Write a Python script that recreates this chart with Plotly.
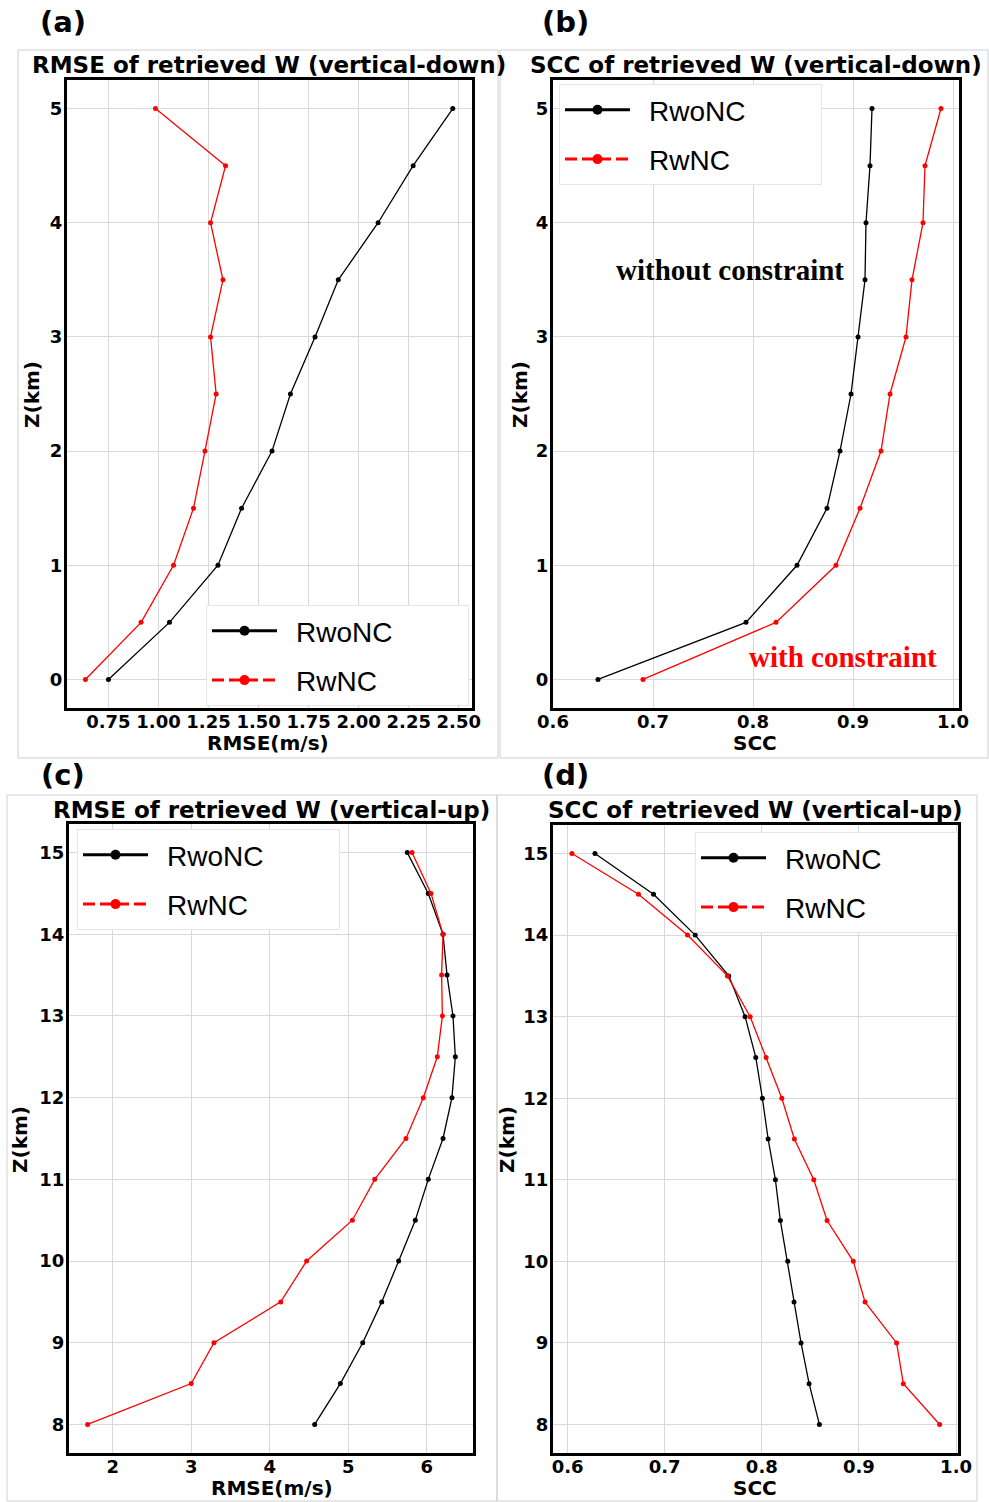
import plotly.graph_objects as go

W, H = 989, 1502

# ---------------- data ----------------
z_down = [0, 0.5, 1, 1.5, 2, 2.5, 3, 3.5, 4, 4.5, 5]
rmse_down_woNC = [0.75, 1.055, 1.297, 1.415, 1.567, 1.659, 1.782, 1.898, 2.097, 2.272, 2.47]
rmse_down_wNC = [0.635, 0.913, 1.075, 1.175, 1.232, 1.288, 1.26, 1.322, 1.26, 1.335, 0.985]
scc_down_woNC = [0.645, 0.793, 0.844, 0.874, 0.887, 0.898, 0.905, 0.912, 0.913, 0.917, 0.919]
scc_down_wNC = [0.690, 0.823, 0.883, 0.907, 0.928, 0.937, 0.953, 0.959, 0.970, 0.972, 0.988]

z_up = [8, 8.5, 9, 9.5, 10, 10.5, 11, 11.5, 12, 12.5, 13, 13.5, 14, 14.5, 15]
rmse_up_woNC = [4.573, 4.9, 5.185, 5.427, 5.643, 5.855, 6.02, 6.208, 6.322, 6.365, 6.335, 6.259, 6.208, 6.02, 5.753]
rmse_up_wNC = [1.68, 3.0, 3.29, 4.14, 4.47, 5.053, 5.338, 5.736, 5.957, 6.135, 6.2, 6.19, 6.208, 6.055, 5.813]
scc_up_woNC = [0.8593, 0.8487, 0.8404, 0.8332, 0.8267, 0.8191, 0.814, 0.8065, 0.8006, 0.7938, 0.7828, 0.766, 0.7314, 0.6885, 0.6282]
scc_up_wNC = [0.9831, 0.9457, 0.9388, 0.9063, 0.8942, 0.8672, 0.8535, 0.8335, 0.8206, 0.8044, 0.788, 0.7646, 0.7235, 0.673, 0.6045]

series_names = ["RwoNC", "RwNC"]
series_colors = ["#000000", "#ff0000"]

rmse_down_ticks = [0.75, 1.00, 1.25, 1.50, 1.75, 2.00, 2.25, 2.50]
scc_ticks = [0.6, 0.7, 0.8, 0.9, 1.0]
rmse_up_ticks = [2, 3, 4, 5, 6]
z_down_ticks = [0, 1, 2, 3, 4, 5]
z_up_ticks = [8, 9, 10, 11, 12, 13, 14, 15]

titles = ["RMSE of retrieved W (vertical-down)", "SCC of retrieved W (vertical-down)",
          "RMSE of retrieved W (vertical-up)", "SCC of retrieved W (vertical-up)"]
panel_letters = ["(a)", "(b)", "(c)", "(d)"]
xtitles = ["RMSE(m/s)", "SCC", "RMSE(m/s)", "SCC"]
ytitle = "Z(km)"


def px(x):
    return x / W


def py(y):
    return 1 - y / H


fig = go.Figure()

panels = [
    dict(ax="", z=z_down, a=rmse_down_woNC, b=rmse_down_wNC),
    dict(ax="2", z=z_down, a=scc_down_woNC, b=scc_down_wNC),
    dict(ax="3", z=z_up, a=rmse_up_woNC, b=rmse_up_wNC),
    dict(ax="4", z=z_up, a=scc_up_woNC, b=scc_up_wNC),
]
legend_ids = ["legend", "legend2", "legend3", "legend4"]
# en-spaces: gap between legend symbol and text, and padding to widen the legend box
legend_labels = ["\u2002" + series_names[0] + "\u2002" * 5, "\u2002" + series_names[1]]

for i, p in enumerate(panels):
    for j, vals in enumerate([p["a"], p["b"]]):
        fig.add_trace(go.Scatter(
            x=vals, y=p["z"], mode="lines+markers",
            line=dict(color=series_colors[j], width=1.3),
            marker=dict(color=series_colors[j], size=5),
            xaxis="x" + p["ax"], yaxis="y" + p["ax"],
            showlegend=False, hoverinfo="skip"))
    # legend entries (legend shows thicker lines; RwNC dashed as in original)
    for j in range(2):
        fig.add_trace(go.Scatter(
            x=[None], y=[None], mode="lines+markers",
            name=legend_labels[j],
            line=dict(color=series_colors[j], width=3,
                      dash="solid" if j == 0 else "12px,5px"),
            marker=dict(color=series_colors[j], size=10),
            xaxis="x" + p["ax"], yaxis="y" + p["ax"],
            legend=legend_ids[i], legendgroup=f"g{i}{j}", showlegend=True))

tickfont = dict(family="DejaVu Sans", size=18, color="black", weight="bold")
titlefont = dict(family="DejaVu Sans", size=20, color="black", weight="bold")


def axis_common():
    return dict(showline=True, linecolor="black", linewidth=3, mirror=True,
                showgrid=True, gridcolor="#d9d9d9", gridwidth=1, zeroline=False,
                ticks="", tickfont=tickfont, automargin=False)


# domains in pixel coordinates
doms = [
    ((67, 472), (80, 708)),
    ((553, 959), (80, 708)),
    ((69, 473), (824, 1453)),
    ((553, 958), (825, 1453)),
]
xranges = [[0.543, 2.566], [0.6, 1.006], [1.443, 6.59], [0.585, 1.002]]
yranges = [[-0.25, 5.25], [-0.25, 5.25], [7.65, 15.35], [7.65, 15.35]]
xticks = [rmse_down_ticks, scc_ticks, rmse_up_ticks, scc_ticks]
xfmt = [".2f", ".1f", "d", ".1f"]
yticks = [z_down_ticks, z_down_ticks, z_up_ticks, z_up_ticks]

layout = dict(width=W, height=H, margin=dict(l=0, r=0, t=0, b=0, autoexpand=False),
              paper_bgcolor="white", plot_bgcolor="white", showlegend=True)

for i in range(4):
    sfx = "" if i == 0 else str(i + 1)
    (x0, x1), (y0, y1) = doms[i]
    xa = axis_common()
    xa.update(domain=[px(x0), px(x1)], range=xranges[i], tickvals=xticks[i],
              tickformat=xfmt[i], anchor="y" + sfx, ticklabelstandoff=-5)
    ya = axis_common()
    ya.update(domain=[py(y1), py(y0)], range=yranges[i], tickvals=yticks[i],
              anchor="x" + sfx, ticklabelstandoff=-2)
    layout["xaxis" + sfx] = xa
    layout["yaxis" + sfx] = ya

legfont = dict(family="Liberation Sans", size=28, color="black")
leg_common = dict(font=legfont, bgcolor="white", bordercolor="#e6e6e6", borderwidth=1,
                  itemwidth=65, tracegroupgap=10, traceorder="grouped",
                  xanchor="left", yanchor="top")
layout["legend"] = dict(leg_common, x=px(206), y=py(706), yanchor="bottom")
layout["legend2"] = dict(leg_common, x=px(559), y=py(84))
layout["legend3"] = dict(leg_common, x=px(77), y=py(829))
layout["legend4"] = dict(leg_common, x=px(695), y=py(832))

fig.update_layout(**layout)

# panel titles and letters
title_pos = [(269, 65), (756, 65), (271, 810), (755, 810)]
letter_pos = [(63, 22), (565, 22), (63, 775), (565, 775)]
xtitle_pos = [(268, 743), (755, 743), (272, 1488), (755, 1488)]
ytitle_pos = [(32, 395), (520, 395), (20, 1140), (507, 1140)]
for i in range(4):
    fig.add_annotation(text=titles[i], xref="paper", yref="paper",
                       x=px(title_pos[i][0]), y=py(title_pos[i][1]),
                       xanchor="center", yanchor="middle", showarrow=False,
                       font=dict(family="DejaVu Sans", size=23, color="black", weight="bold"))
    fig.add_annotation(text=panel_letters[i], xref="paper", yref="paper",
                       x=px(letter_pos[i][0]), y=py(letter_pos[i][1]),
                       xanchor="center", yanchor="middle", showarrow=False,
                       font=dict(family="DejaVu Sans", size=29, color="black", weight="bold"))
    fig.add_annotation(text=xtitles[i], xref="paper", yref="paper",
                       x=px(xtitle_pos[i][0]), y=py(xtitle_pos[i][1]),
                       xanchor="center", yanchor="middle", showarrow=False, font=titlefont)
    fig.add_annotation(text=ytitle, xref="paper", yref="paper", textangle=-90,
                       x=px(ytitle_pos[i][0]), y=py(ytitle_pos[i][1]),
                       xanchor="center", yanchor="middle", showarrow=False, font=titlefont)

# in-panel labels for (b)
fig.add_annotation(text="without constraint", xref="paper", yref="paper",
                   x=px(730), y=py(270), xanchor="center", yanchor="middle", showarrow=False,
                   font=dict(family="Liberation Serif", size=29, color="black", weight="bold"))
fig.add_annotation(text="with constraint", xref="paper", yref="paper",
                   x=px(843), y=py(657), xanchor="center", yanchor="middle", showarrow=False,
                   font=dict(family="Liberation Serif", size=29, color="#ff0000", weight="bold"))

# faint frames of the four sub-images
frames = [(18, 50, 498, 758), (500, 50, 988, 758), (7, 795, 497, 1501), (497, 795, 977, 1501)]
for (fx0, fy0, fx1, fy1) in frames:
    fig.add_shape(type="rect", xref="paper", yref="paper",
                  x0=px(fx0), x1=px(fx1), y0=py(fy1), y1=py(fy0),
                  line=dict(color="#d0d0d0", width=1), layer="below")

fig.write_html("out.html", config={"displayModeBar": False},
               post_script="document.body.style.margin='0px';"
                           "document.body.style.overflow='hidden';")
